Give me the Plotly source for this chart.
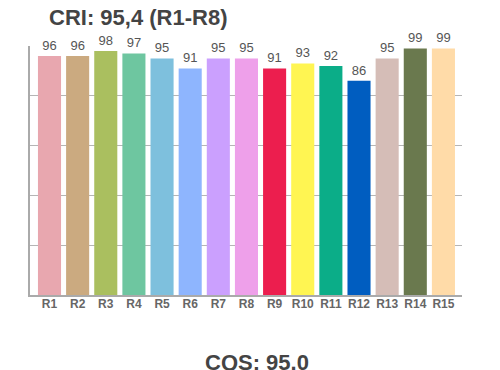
import plotly.graph_objects as go

categories = ["R1","R2","R3","R4","R5","R6","R7","R8","R9","R10","R11","R12","R13","R14","R15"]
values = [96, 96, 98, 97, 95, 91, 95, 95, 91, 93, 92, 86, 95, 99, 99]
colors = ["#E8A7AF","#CBAA80","#AABF5F","#6EC6A0","#7EC0DD","#8EB5FE","#CBA0FE","#EEA0EA",
          "#EC1E4E","#FFF552","#0BAD88","#005DC0","#D5BDB7","#6A794E","#FFDBA8"]

W, H = 500, 370
ML, MR, MT, MB = 22, 46, 38, 83

fig = go.Figure(go.Bar(
    x=list(range(len(categories))), y=values,
    marker=dict(color=colors, line=dict(width=0)),
    width=0.82,
    text=[str(v) for v in values], textposition="outside",
    textfont=dict(family="Liberation Sans, Arial, sans-serif", size=13, color="#555555"),
    cliponaxis=False,
))

pw = W - ML - MR
ph = H - MT - MB

def px_to_paper(xp, yp):
    return (xp - ML) / pw, (H - yp - MB) / ph

tx, ty = px_to_paper(39, 9)
cx, cy = px_to_paper(248.5, 354)

fig.update_layout(
    width=W, height=H,
    margin=dict(l=ML, r=MR, t=MT, b=MB),
    paper_bgcolor="white", plot_bgcolor="white",
    showlegend=False,
    font=dict(family="Liberation Sans, Arial, sans-serif"),
    xaxis=dict(range=[-0.693, 14.66], tickmode="array",
               tickvals=list(range(len(categories))),
               ticktext=["<b>%s</b>" % c for c in categories],
               tickfont=dict(size=12, color="#666666", family="Liberation Sans, Arial, sans-serif"),
               ticklabelstandoff=-3,
               showline=True, linecolor="#aaaaaa", linewidth=2, ticks="", showgrid=False,
               zeroline=False),
    yaxis=dict(range=[0, 100], dtick=20, showticklabels=False, showgrid=True,
               gridcolor="#b5b5b5", gridwidth=1, showline=True, linecolor="#aaaaaa",
               linewidth=2, zeroline=False, ticks=""),
    annotations=[
        dict(text="<b>CRI: 95,4 (R1-R8)</b>", x=tx, y=ty, xref="paper", yref="paper",
             showarrow=False, xanchor="left", yanchor="middle",
             font=dict(size=22, color="#444444")),
        dict(text="<b>CQS: 95.0</b>", x=cx, y=cy, xref="paper", yref="paper",
             showarrow=False, xanchor="center", yanchor="middle",
             font=dict(size=22, color="#444444")),
    ],
)

fig.write_html("out.html")
